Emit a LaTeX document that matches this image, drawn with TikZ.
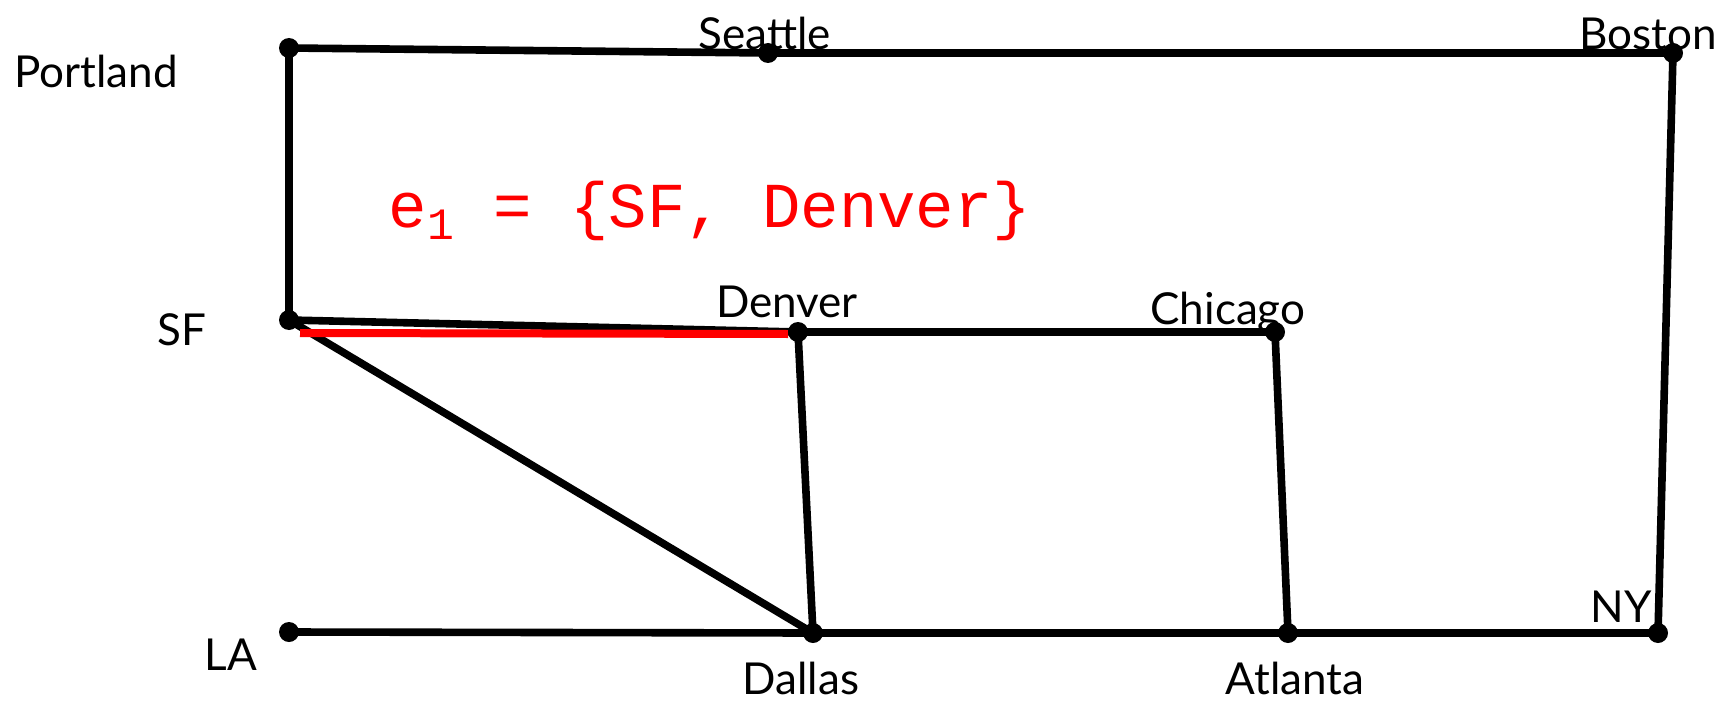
\documentclass[tikz,border=0pt]{standalone}
\usepackage{fontspec}
\setmainfont{Lato}
\setmonofont{Liberation Mono}

\begin{document}
\begin{tikzpicture}[x=0.5pt, y=-0.5pt,
    edge/.style={line width=3.8pt},
    city/.style={font=\fontsize{22}{26}\selectfont, anchor=base, inner sep=0pt}]
    \useasboundingbox (0,0) rectangle (1717,701);
    \coordinate (Portland) at (289,48);
    \coordinate (Seattle) at (768,53);
    \coordinate (Boston) at (1673,53);
    \coordinate (SF) at (289,320);
    \coordinate (Denver) at (798,332);
    \coordinate (Chicago) at (1275,332);
    \coordinate (LA) at (289,632);
    \coordinate (Dallas) at (813,633);
    \coordinate (Atlanta) at (1288,633);
    \coordinate (NY) at (1658,633);
    \draw[edge] (Portland) -- (Seattle) -- (Boston) -- (NY);
    \draw[edge] (Portland) -- (SF) -- (Denver) -- (Chicago) -- (Atlanta);
    \draw[edge] (SF) -- (Dallas) -- (Denver);
    \draw[edge] (LA) -- (Dallas) -- (Atlanta) -- (NY);
    \draw[red, line width=4pt] ([shift={(11,13)}]SF) -- ([shift={(-10,2)}]Denver);
    \foreach \c in {Portland,Seattle,Boston,SF,Denver,Chicago,LA,Dallas,Atlanta,NY}
        \fill (\c) circle[radius=5pt];
    \node[city] (lPortland) at (96,88) {Portland};
    \node[city] (lSeattle) at (765,50) {Seattle};
    \node[city] (lBoston) at (1648,50) {Boston};
    \node[city] (lSF) at (182,345) {SF};
    \node[city] (lDenver) at (787,317) {Denver};
    \node[city] (lChicago) at (1228,324) {Chicago};
    \node[city] (lLA) at (231,670) {LA};
    \node[city] (lDallas) at (801,694) {Dallas};
    \node[city] (lAtlanta) at (1295,694) {Atlanta};
    \node[city] (lNY) at (1621,622) {NY};
    \node[red, anchor=base, inner sep=0pt, font=\ttfamily\fontsize{32}{36}\selectfont]
        (edgename) at (710,227) {e\textsubscript{1} = \{SF, Denver\}};
\end{tikzpicture}
\end{document}
